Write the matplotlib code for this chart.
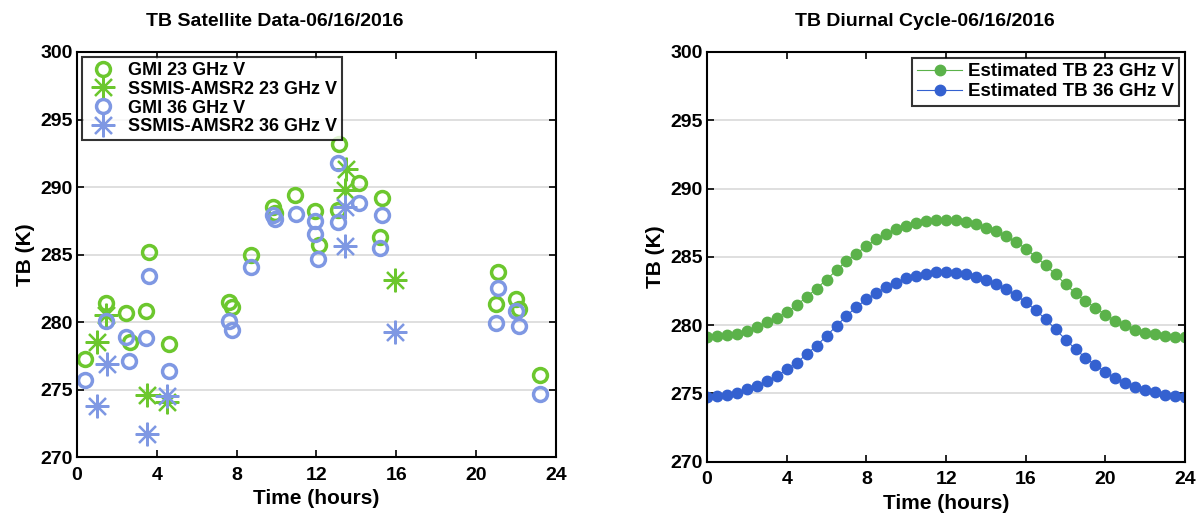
import numpy as np
from matplotlib import pyplot as plt

plt.rcParams['font.family'] = ['Liberation Sans', 'DejaVu Sans']
plt.rcParams['font.weight'] = 'bold'

# left panel: satellite overpasses (hours, K)
gmi23_t = [0.4, 1.45, 2.48, 2.65, 3.48, 3.6, 4.6, 7.6, 7.75, 8.73, 9.8, 9.9, 10.9,
           11.95, 12.15, 13.1, 13.15, 14.15, 15.3, 15.2, 21.1, 21.0, 22.0, 22.15, 23.2]
gmi23_tb = [277.3, 281.4, 280.7, 278.5, 280.8, 285.2, 278.4, 281.5, 281.1, 285.0, 288.5, 288.1, 289.4,
            288.2, 285.7, 288.3, 293.2, 290.3, 289.2, 286.3, 283.7, 281.3, 281.7, 281.0, 276.1]

ssmis23_t = [0.98, 1.45, 3.5, 4.5, 13.5, 13.45, 15.95]
ssmis23_tb = [278.5, 280.5, 274.6, 274.1, 291.3, 289.8, 283.1]

gmi36_t = [0.4, 1.45, 2.45, 2.6, 3.48, 3.6, 4.6, 7.6, 7.75, 8.73, 9.8, 9.9, 10.95,
           11.95, 11.95, 12.1, 13.07, 13.1, 14.15, 15.3, 15.2, 21.1, 21.0, 22.0, 22.15, 23.2]
gmi36_tb = [275.7, 280.1, 278.9, 277.1, 278.8, 283.4, 276.4, 280.1, 279.4, 284.1, 287.9, 287.6, 288.0,
            287.5, 286.5, 284.7, 291.8, 287.4, 288.8, 287.9, 285.5, 282.5, 279.9, 280.8, 279.7, 274.7]

ssmis36_t = [1.0, 1.5, 3.5, 4.5, 13.45, 13.45, 15.95]
ssmis36_tb = [273.8, 276.9, 271.7, 274.5, 288.5, 285.6, 279.3]

# right panel: estimated diurnal cycle, every half hour
hours = np.arange(0, 24.5, 0.5)
est23 = [279.14, 279.22, 279.27, 279.39, 279.56, 279.88, 280.20, 280.56, 280.93, 281.46,
         282.07, 282.68, 283.34, 284.02, 284.70, 285.24, 285.80, 286.29, 286.66, 287.02,
         287.27, 287.51, 287.63, 287.73, 287.73, 287.68, 287.56, 287.39, 287.15, 286.90,
         286.51, 286.09, 285.61, 285.00, 284.39, 283.71, 283.00, 282.32, 281.76, 281.27,
         280.78, 280.31, 280.00, 279.63, 279.44, 279.32, 279.22, 279.14, 279.14]
est36 = [274.76, 274.83, 274.88, 275.05, 275.32, 275.56, 275.90, 276.27, 276.76, 277.24,
         277.88, 278.49, 279.22, 279.95, 280.68, 281.34, 281.88, 282.36, 282.80, 283.12,
         283.42, 283.58, 283.73, 283.88, 283.92, 283.85, 283.73, 283.53, 283.29, 283.00,
         282.63, 282.19, 281.70, 281.09, 280.44, 279.69, 278.95, 278.24, 277.61, 277.07,
         276.58, 276.10, 275.78, 275.44, 275.24, 275.08, 274.88, 274.81, 274.76]

green_l = '#6cc72e'
blue_l = '#7f98e3'
green_r = '#5bb24a'
blue_r = '#3461d0'


def style_axes(ax, title, title_x):
    ax.set_xlim(0, 24)
    ax.set_ylim(270, 300)
    ax.set_xticks(range(0, 25, 4))
    ax.set_yticks(range(270, 301, 5))
    ax.yaxis.grid(True, color='#d9d9d9', lw=1.2)
    ax.set_axisbelow(True)
    ax.tick_params(direction='in', top=True, right=True, labelsize=14, width=1.2, length=5, pad=3)
    ax.tick_params(axis='x', pad=7)
    for s in ax.spines.values():
        s.set_linewidth(1.5)
    ax.set_xlabel('Time (hours)', fontsize=15, fontweight='bold', labelpad=4)
    ax.set_ylabel('TB (K)', fontsize=15, fontweight='bold', labelpad=4)
    ax.set_title(title, fontsize=14, fontweight='bold', pad=19, x=title_x)


fig = plt.figure(figsize=(11.99, 5.2), dpi=100)
ax1 = fig.add_axes([0.0642, 0.121, 0.3995, 0.779])
ax2 = fig.add_axes([0.5897, 0.112, 0.3987, 0.788])

ax1.plot(gmi23_t, gmi23_tb, 'o', mfc='none', mec=green_l, mew=2.5, ms=10, ls='none', label='GMI 23 GHz V')
ax1.plot(ssmis23_t, ssmis23_tb, marker=(8, 2, 0), color=green_l, mew=1.6, ms=17, ls='none',
         label='SSMIS-AMSR2 23 GHz V')
ax1.plot(gmi36_t, gmi36_tb, 'o', mfc='none', mec=blue_l, mew=2.5, ms=10, ls='none', label='GMI 36 GHz V')
ax1.plot(ssmis36_t, ssmis36_tb, marker=(8, 2, 0), color=blue_l, mew=1.6, ms=17, ls='none',
         label='SSMIS-AMSR2 36 GHz V')
style_axes(ax1, 'TB Satellite Data-06/16/2016', 0.413)
leg1 = ax1.legend(loc='upper left', fontsize=13, fancybox=False, edgecolor='black',
                  borderaxespad=0.3, handletextpad=0.5, labelspacing=0.1, borderpad=0.25,
                  handlelength=1.8)
leg1.get_frame().set_linewidth(1.5)

ax2.plot(hours, est23, '-o', color=green_r, lw=0.8, ms=7.5, label='Estimated TB 23 GHz V')
ax2.plot(hours, est36, '-o', color=blue_r, lw=0.8, ms=7.5, label='Estimated TB 36 GHz V')
style_axes(ax2, 'TB Diurnal Cycle-06/16/2016', 0.456)
leg2 = ax2.legend(loc='upper right', fontsize=13.5, fancybox=False, edgecolor='black',
                  borderaxespad=0.3, handletextpad=0.3, labelspacing=0.15, borderpad=0.3,
                  handlelength=2.4)
leg2.get_frame().set_linewidth(1.5)

plt.savefig('out.png', dpi=100)
